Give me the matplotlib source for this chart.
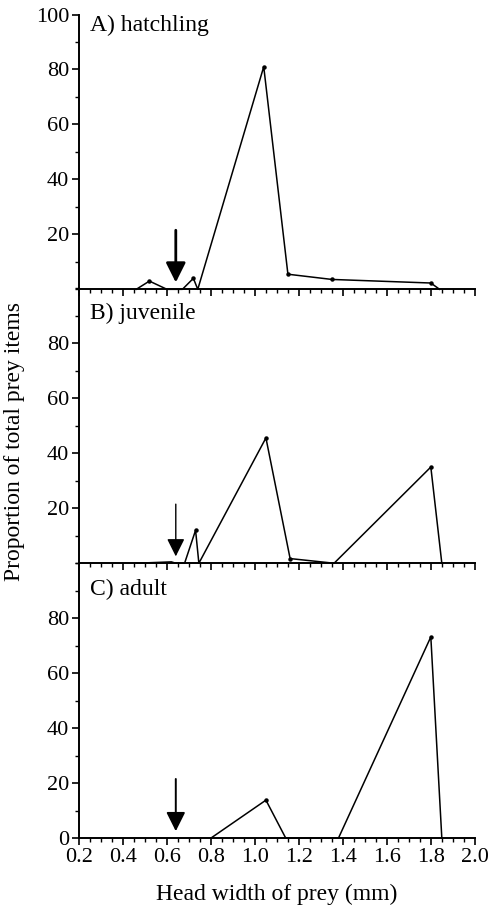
import matplotlib.pyplot as plt
from matplotlib.ticker import MultipleLocator

plt.rcParams['font.family'] = ['Liberation Serif', 'DejaVu Serif']

# prey head width (mm) vs proportion of total prey items (%)
hatch_x = [0.46, 0.52, 0.60, 0.67, 0.72, 0.74, 1.04, 1.15, 1.35, 1.80, 1.84]
hatch_y = [0, 3, 0, 0, 4, 0, 81, 5.5, 3.6, 2.3, 0]

juv_x = [0.46, 0.62, 0.64, 0.68, 0.73, 0.745, 1.05, 1.16, 1.36, 1.80, 1.85]
juv_y = [0, 0.5, 0, 0, 12, 0, 45.6, 1.7, 0, 35, 0]

adult_x = [0.80, 1.05, 1.14, 1.38, 1.80, 1.85]
adult_y = [0, 13.8, 0, 0, 73.2, 0]

panel_labels = ["A) hatchling", "B) juvenile", "C) adult"]
arrow_x = 0.64

fig = plt.figure(figsize=(4.91, 9.07), dpi=100)
left, width = 0.161, 0.806
bottoms = [0.681, 0.379, 0.076]
height = 0.303

series = [(hatch_x, hatch_y), (juv_x, juv_y), (adult_x, adult_y)]
label_y = [96, 91, 90.5]
arrow_lw = [2.0, 1.0, 1.4]
arrow_ms = [30, 27, 29]

for i, ((xs, ys), lab) in enumerate(zip(series, panel_labels)):
    ax = fig.add_axes([left, bottoms[i], width, height])
    ax.patch.set_visible(False)
    ax.plot(xs, ys, color="black", lw=1.1, clip_on=False)
    pts = [(x, y) for x, y in zip(xs, ys) if y > 1]
    ax.plot([p[0] for p in pts], [p[1] for p in pts], "o", color="black", ms=2.2)

    ax.set_xlim(0.2, 2.0)
    ax.set_ylim(0, 100)
    for s in ["top", "right"]:
        ax.spines[s].set_visible(False)
    for s in ["left", "bottom"]:
        ax.spines[s].set_linewidth(1.4)

    ax.xaxis.set_major_locator(MultipleLocator(0.2))
    ax.xaxis.set_minor_locator(MultipleLocator(0.05))
    ax.yaxis.set_minor_locator(MultipleLocator(10))
    if i == 0:
        ax.set_yticks([20, 40, 60, 80, 100])
    elif i == 1:
        ax.set_yticks([20, 40, 60, 80])
    else:
        ax.set_yticks([0, 20, 40, 60, 80])
    ax.tick_params(which="major", direction="out", length=5, width=1.2, labelsize=16, pad=2)
    ax.tick_params(which="minor", direction="out", length=3, width=1.0)
    if i < 2:
        ax.tick_params(axis="x", labelbottom=False)
    else:
        ax.set_xticklabels([f"{v:.1f}" for v in ax.get_xticks()])

    ax.text(0.25, label_y[i], lab, fontsize=17, va="center", ha="left")

    ax.annotate("", xy=(arrow_x, 2.5), xytext=(arrow_x, 21.5),
                arrowprops=dict(arrowstyle="-|>", color="black", lw=arrow_lw[i],
                                mutation_scale=arrow_ms[i], shrinkA=0, shrinkB=0))

fig.text(0.03, 0.513, "Proportion of total prey items", rotation=90,
         fontsize=17, ha="center", va="center")
fig.text(0.564, 0.014, "Head width of prey (mm)", fontsize=17, ha="center", va="center")

fig.savefig("out.png", dpi=100)
